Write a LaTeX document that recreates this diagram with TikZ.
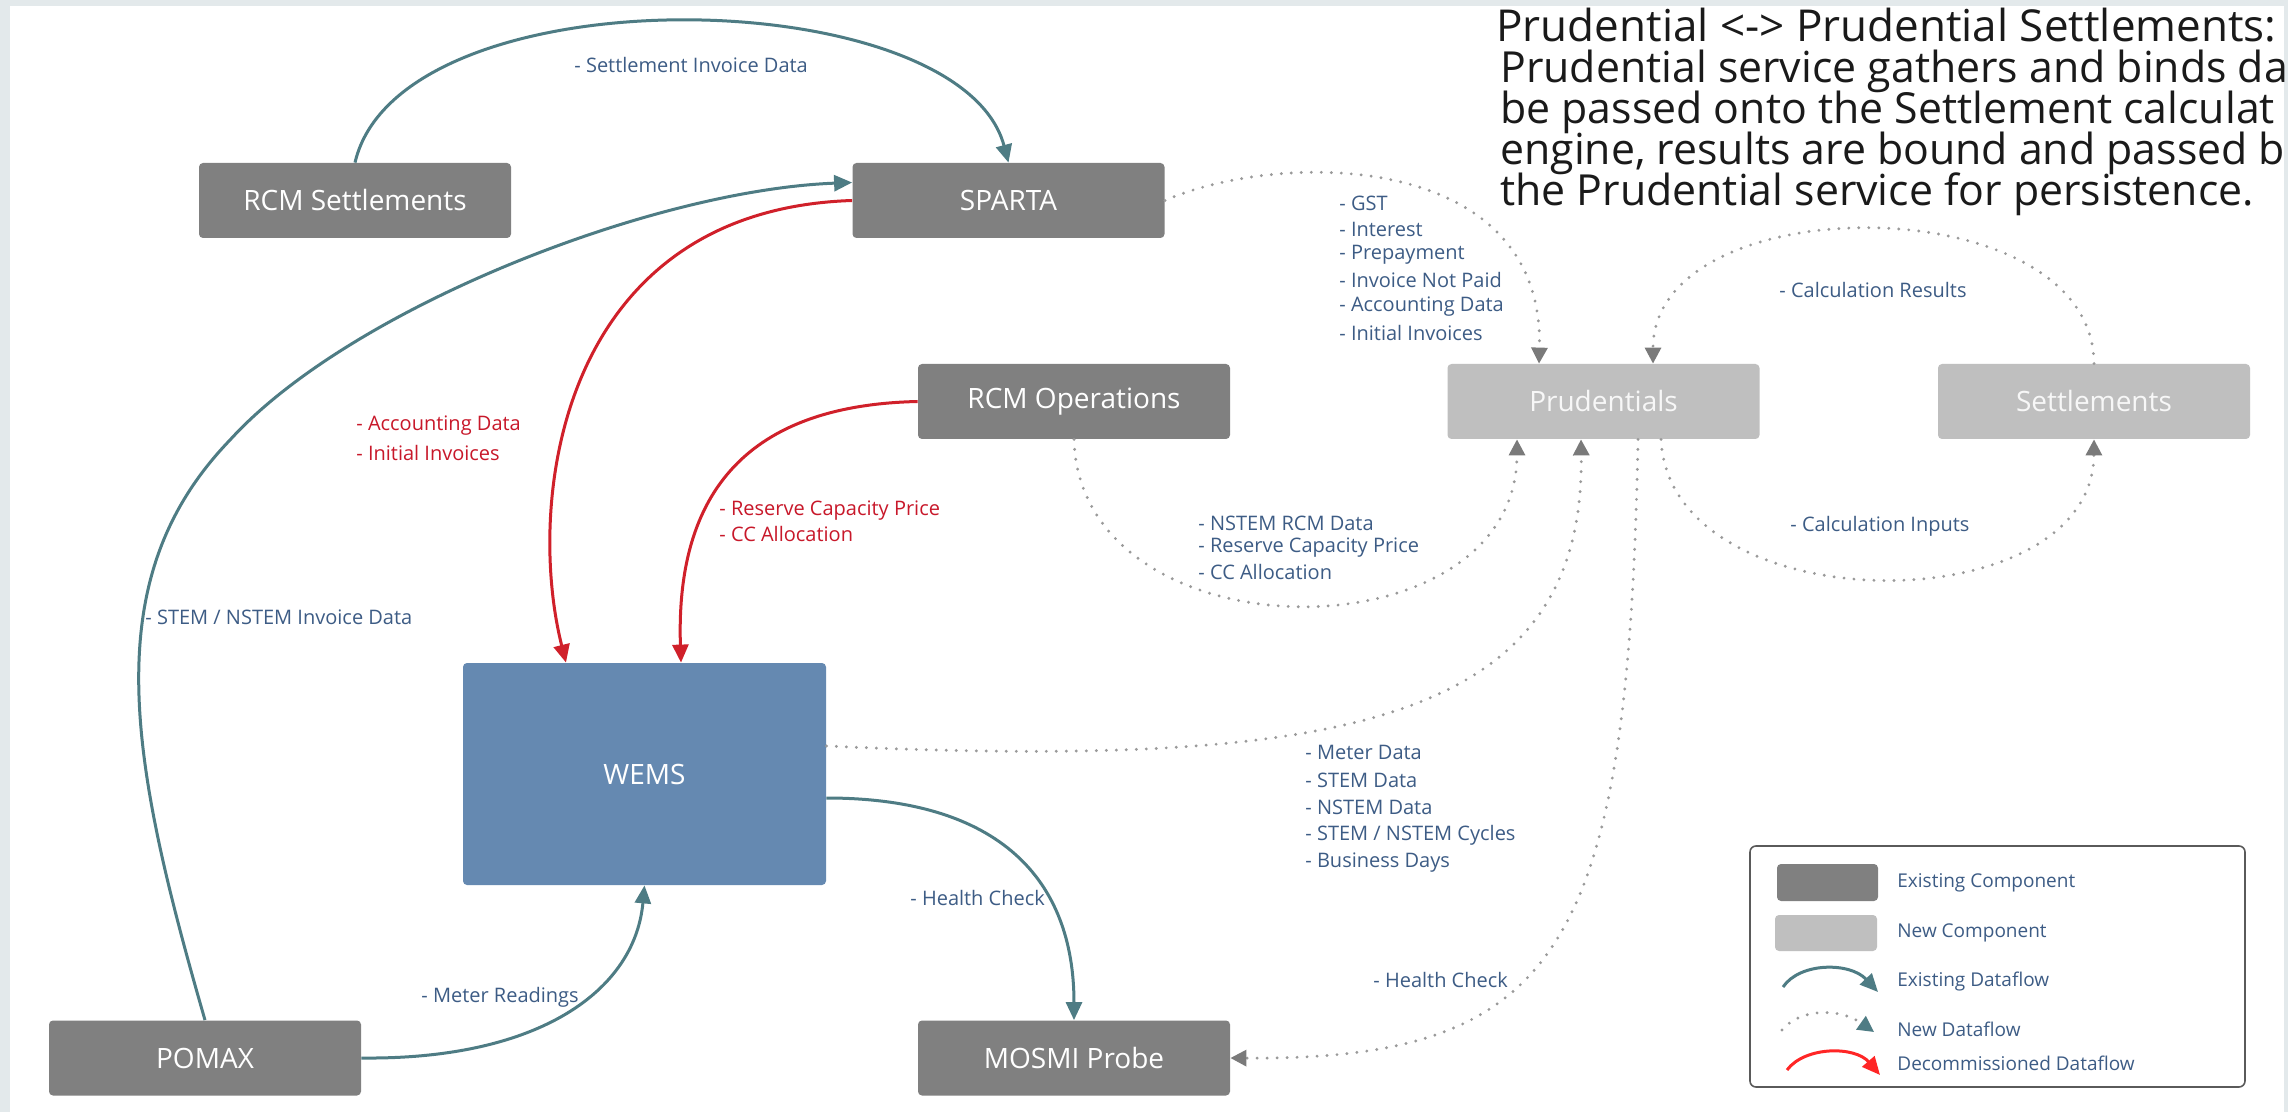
\documentclass[tikz,border=0pt]{standalone}
\usepackage{fontspec}
\setmainfont{Open Sans}
\usetikzlibrary{arrows.meta,calc}
\definecolor{framebg}{HTML}{E3E9EB}
\definecolor{darkbox}{HTML}{808080}
\definecolor{lightbox}{HTML}{BFBFBF}
\definecolor{wemsblue}{HTML}{6589B1}
\definecolor{flowteal}{HTML}{4E7C84}
\definecolor{flowred}{HTML}{D0202A}
\definecolor{dotgray}{HTML}{9A9A9A}
\definecolor{headgray}{HTML}{7A7A7A}
\definecolor{labelblue}{HTML}{3D5C85}
\definecolor{labelred}{HTML}{C8182A}
\definecolor{legendline}{HTML}{5A5A5A}
\definecolor{titlecol}{HTML}{1A1A1A}
\tikzset{
  comp/.style={rectangle, rounded corners=2pt, minimum width=156pt, minimum height=37.5pt,
    inner sep=0pt, text=white, font=\fontsize{14}{16}\selectfont},
  existcomp/.style={comp, fill=darkbox},
  newcomp/.style={comp, fill=lightbox, text=white!94!gray},
  flow/.style={draw=flowteal, line width=1.5pt, -{Triangle[length=9pt,width=8pt]}},
  newflow/.style={draw=dotgray, line width=1.6pt, dash pattern=on 0pt off 5pt, line cap=round,
    -{Triangle[length=8pt,width=8pt,color=headgray]}},
  oldflow/.style={draw=flowred, line width=1.5pt, -{Triangle[length=9pt,width=8pt]}},
  lbl/.style={anchor=west, inner sep=0pt, text=labelblue, font=\fontsize{10}{12}\selectfont},
  rlbl/.style={lbl, text=labelred},
  leglbl/.style={lbl, text=labelblue, font=\fontsize{9.5}{11}\selectfont},
  titleline/.style={anchor=base west, inner sep=0pt, text=titlecol, font=\fontsize{22}{21}\selectfont},
  bodyline/.style={titleline, font=\fontsize{21.4}{21}\selectfont},
}
\begin{document}
\begin{tikzpicture}[x=0.5pt, y=-0.5pt]
\useasboundingbox (0,0) rectangle (2288,1112);
% frame
\fill[framebg] (0,0) rectangle (2288,1112);
\fill[white] (10,6) rectangle (2284,1112);

% components
\node[existcomp] (rcms) at (355,200.5) {RCM Settlements};
\node[existcomp] (sparta) at (1008.5,200.5) {SPARTA};
\node[existcomp] (rcmops) at (1074,401.5) {RCM Operations};
\node[newcomp] (prud) at (1603.5,401.5) {Prudentials};
\node[newcomp] (settl) at (2094,401.5) {Settlements};
\node[comp, fill=wemsblue, minimum width=181.5pt, minimum height=111pt] (wems) at (644.5,774) {WEMS};
\node[existcomp] (pomax) at (205,1058) {POMAX};
\node[existcomp] (mosmi) at (1074,1058) {MOSMI Probe};

% existing flows
\draw[flow] (rcms.north) .. controls (400,-30) and (960,-20) .. (sparta.north);
\draw[flow] (pomax.north) .. controls (130,760) and (95,580) .. (230,440)
  .. controls (350,308) and (653,190) .. ([yshift=9pt]sparta.west);
\draw[flow] (pomax.east) .. controls (540,1060) and (635,990) .. (wems.south);
\draw[flow] ([yshift=-12pt]wems.east) .. controls (1000,798) and (1074,880) .. (mosmi.north);

% decommissioned flows
\draw[oldflow] (sparta.west) .. controls (560,210) and (525,500) .. ([xshift=-39.25pt]wems.north);
\draw[oldflow] (rcmops.west) .. controls (760,405) and (675,480) .. ([xshift=18.25pt]wems.north);

% new flows
\draw[newflow] (sparta.east) .. controls (1280,150) and (1545,150) .. ([xshift=-32.25pt]prud.north);
\draw[newflow] (settl.north) .. controls (2093,185) and (1653,185) .. ([xshift=24.75pt]prud.north);
\draw[newflow] (rcmops.south) .. controls (1080,660) and (1517,660) .. ([xshift=-43.25pt]prud.south);
\draw[newflow] ([yshift=14pt]wems.east) .. controls (1350,770) and (1585,720) .. ([xshift=-11.25pt]prud.south);
\draw[newflow] ([xshift=17.25pt]prud.south) .. controls (1628,950) and (1560,1060) .. (mosmi.east);
\draw[newflow] ([xshift=28.75pt]prud.south) .. controls (1670,625) and (2093,625) .. (settl.south);

% labels
\node[lbl] (l1) at (574,65) {- Settlement Invoice Data};
\node[lbl] (l2) at (145,617) {- STEM / NSTEM Invoice Data};
\node[rlbl] (l3a) at (356,426) {- Accounting Data};
\node[rlbl] (l3b) at (356,453) {- Initial Invoices};
\node[rlbl] (l4a) at (719,511) {- Reserve Capacity Price};
\node[rlbl] (l4b) at (719,534) {- CC Allocation};
\node[lbl] (g1) at (1339,203) {- GST};
\node[lbl] (g2) at (1339,229) {- Interest};
\node[lbl] (g3) at (1339,255) {- Prepayment};
\node[lbl] (g4) at (1339,280) {- Invoice Not Paid};
\node[lbl] (g5) at (1339,307) {- Accounting Data};
\node[lbl] (g6) at (1339,333) {- Initial Invoices};
\node[lbl] (cr) at (1779,290) {- Calculation Results};
\node[lbl] (ci) at (1790,526) {- Calculation Inputs};
\node[lbl] (n1) at (1198,523) {- NSTEM RCM Data};
\node[lbl] (n2) at (1198,548) {- Reserve Capacity Price};
\node[lbl] (n3) at (1198,572) {- CC Allocation};
\node[lbl] (m1) at (1305,752) {- Meter Data};
\node[lbl] (m2) at (1305,780) {- STEM Data};
\node[lbl] (m3) at (1305,807) {- NSTEM Data};
\node[lbl] (m4) at (1305,835) {- STEM / NSTEM Cycles};
\node[lbl] (m5) at (1305,863) {- Business Days};
\node[lbl] (hc1) at (910,898) {- Health Check};
\node[lbl] (hc2) at (1373,980) {- Health Check};
\node[lbl] (mr) at (421,997) {- Meter Readings};

% legend
\node[draw=legendline, line width=0.8pt, rounded corners=3pt, fill=white,
      minimum width=247.5pt, minimum height=120.5pt, inner sep=0pt] (legend) at (1997.5,966.5) {};
\node[rectangle, rounded corners=2pt, fill=darkbox, minimum width=50.5pt, minimum height=18.5pt, inner sep=0pt] (sw1) at (1827.5,882.5) {};
\node[rectangle, rounded corners=2pt, fill=lightbox, minimum width=51pt, minimum height=18pt, inner sep=0pt] (sw2) at (1826,933) {};
\node[leglbl] (lg1) at (1897,883) {Existing Component};
\node[leglbl] (lg2) at (1897,933) {New Component};
\node[leglbl] (lg3) at (1897,982) {Existing Dataflow};
\node[leglbl] (lg4) at (1897,1029) {New Dataflow};
\node[leglbl] (lg5) at (1897,1063) {Decommissioned Dataflow};
\coordinate (ea) at (1783,987); \coordinate (eb) at (1878,992);
\coordinate (na) at (1782,1030); \coordinate (nb) at (1874,1032);
\coordinate (da) at (1787,1070); \coordinate (db) at (1880,1075);
\draw[flow] (ea) .. controls (1800,962) and (1850,962) .. (eb);
\draw[newflow, -{Triangle[length=8pt,width=8pt,color=flowteal]}] (na) .. controls (1800,1008) and (1840,1008) .. (nb);
\draw[oldflow, draw=red!85!white] (da) .. controls (1805,1046) and (1855,1046) .. (db);

% title (cut at the right edge as in the reference)
\begin{scope}
\clip (0,0) rectangle (2288,1112);
\node[titleline] (t1) at (1496,42) {Prudential <-> Prudential Settlements:};
\node[bodyline] (t2) at (1500,83) {Prudential service gathers and binds da};
\node[bodyline] (t3) at (1500,124) {be passed onto the Settlement calculat};
\node[bodyline] (t4) at (1500,165) {engine, results are bound and passed b};
\node[bodyline] (t5) at (1500,206) {the Prudential service for persistence.};
\end{scope}
\end{tikzpicture}
\end{document}
